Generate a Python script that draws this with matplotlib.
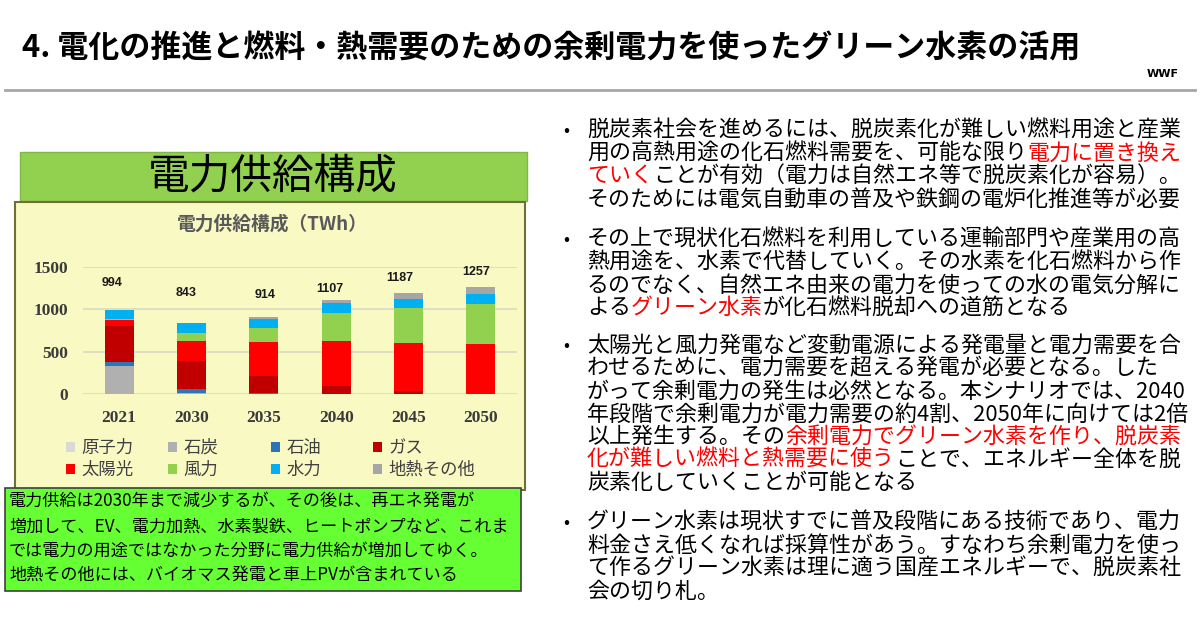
import numpy as np
import matplotlib
matplotlib.use("Agg")
import matplotlib.pyplot as plt
from matplotlib.patches import Rectangle, Patch
from matplotlib.lines import Line2D

plt.rcParams['font.family'] = ['Noto Sans CJK JP', 'DejaVu Sans']

# data (TWh)
years = ['2021', '2030', '2035', '2040', '2045', '2050']
totals = [994, 843, 914, 1107, 1187, 1257]
nuclear = [0, 0, 0, 0, 0, 0]
coal = [331, 12, 0, 0, 0, 0]
oil = [51, 45, 12, 0, 0, 0]
gas = [417, 338, 202, 101, 39, 0]
solar = [79, 226, 400, 520, 563, 591]
wind = [12, 103, 166, 335, 413, 475]
hydro = [102, 115, 110, 113, 110, 118]
geo = [2, 4, 24, 38, 62, 73]

names = ['原子力', '石炭', '石油', 'ガス', '太陽光', '風力', '水力', '地熱その他']
series = [nuclear, coal, oil, gas, solar, wind, hydro, geo]
colors = ['#d9d9d9', '#b0b0b0', '#2e75b6', '#c00000', '#ff0000', '#92d050', '#00b0f0', '#a6a6a6']

# where the total labels sit (they are loose text boxes in the original)
label_y = [1305, 1187, 1167, 1237, 1370, 1437]
label_dx = [-0.1, -0.07, 0.02, -0.09, -0.12, -0.06]

W, H = 1200, 622
fig = plt.figure(figsize=(12, 6.22), dpi=100)
fig.patch.set_facecolor('white')


def fx(x):
    return x / W


def fy(y):
    return 1 - y / H


def box(x0, y0, x1, y1, fc, ec, lw=1.0):
    fig.patches.append(Rectangle((fx(x0), fy(y1)), fx(x1) - fx(x0), fy(y0) - fy(y1),
                                 transform=fig.transFigure, facecolor=fc, edgecolor=ec,
                                 linewidth=lw, zorder=-1))


# header
fig.text(fx(22), fy(48), '4. 電化の推進と燃料・熱需要のための余剰電力を使ったグリーン水素の活用',
         fontsize=22.3, fontweight='bold', va='center', ha='left', color='black')
fig.text(fx(1163), fy(74), 'WWF', fontsize=8, fontweight='bold', family='DejaVu Sans',
         ha='center', va='center')
fig.lines.append(Line2D([fx(5), fx(1195)], [fy(90), fy(90)], transform=fig.transFigure,
                        color='#a6a6a6', lw=2))

# left panel boxes
box(20, 152, 527, 201, '#92d050', '#7fb848', 1)
fig.text(fx(273), fy(177), '電力供給構成', fontsize=30, ha='center', va='center', color='black')
box(15, 202, 525, 490, '#f9f9c4', '#6f6f3a', 1.5)
fig.text(fx(272), fy(224), '電力供給構成（TWh）', fontsize=13.5, fontweight='bold',
         ha='center', va='center', color='#595959')

# chart
ax = fig.add_axes([fx(83), fy(394.3), fx(517) - fx(83), fy(266.7) - fy(394.3)])
ax.set_zorder(2)
ax.set_facecolor('none')
x = np.arange(len(years))
bottom = np.zeros(len(years))
handles = []
for name, vals, c in zip(names, series, colors):
    vals = np.array(vals, dtype=float)
    ax.bar(x, vals, 0.4, bottom=bottom, color=c, zorder=3)
    bottom += vals
    handles.append(Patch(facecolor=c, edgecolor='none'))

for i in range(len(years)):
    ax.text(x[i] + label_dx[i], label_y[i], str(totals[i]), ha='center', va='center',
            fontsize=9, fontweight='bold', family='Liberation Sans', color='#1a1a1a')

ax.set_xlim(-0.5, 5.5)
ax.set_ylim(0, 1500)
ax.set_yticks([0, 500, 1000, 1500])
ax.set_xticks(x)
ax.set_xticklabels(years)
for lab in ax.get_xticklabels() + ax.get_yticklabels():
    lab.set_family('Liberation Serif')
    lab.set_fontweight('bold')
    lab.set_fontsize(12.5)
    lab.set_color('#3a3a3a')
ax.tick_params(length=0, pad=11)
ax.grid(axis='y', color='#d9d9c0', lw=1.2, zorder=0)
for s in ax.spines.values():
    s.set_visible(False)

# legend, one two-row column per group so the columns sit at even spacing
leg_x = [66, 168, 271, 373]
for j in range(4):
    leg = ax.legend([handles[j], handles[j + 4]], [names[j], names[j + 4]],
                    loc='upper left', bbox_to_anchor=(fx(leg_x[j]), fy(439)),
                    bbox_transform=fig.transFigure, frameon=False, fontsize=12.5,
                    handlelength=0.5, handleheight=0.5, handletextpad=0.4,
                    labelspacing=0.22, borderpad=0, borderaxespad=0)
    for t in leg.get_texts():
        t.set_color('#404040')
    if j < 3:
        ax.add_artist(leg)

# bottom note box
box(5, 488, 521, 591, '#66ff33', '#404040', 1.2)
note = ['電力供給は2030年まで減少するが、その後は、再エネ発電が',
        '増加して、EV、電力加熱、水素製鉄、ヒートポンプなど、これま',
        'では電力の用途ではなかった分野に電力供給が増加してゆく。',
        '地熱その他には、バイオマス発電と車上PVが含まれている']
for k, line in enumerate(note):
    fig.text(fx(9), fy(502 + 24.3 * k), line, fontsize=12.3, ha='left', va='center', color='black')

# right column text
R = '#ff0000'
K = 'black'
bullets = [
    (131, [[('脱炭素社会を進めるには、脱炭素化が難しい燃料用途と産業', K)],
           [('用の高熱用途の化石燃料需要を、可能な限り', K), ('電力に置き換え', R)],
           [('ていく', R), ('ことが有効（電力は自然エネ等で脱炭素化が容易）。', K)],
           [('そのためには電気自動車の普及や鉄鋼の電炉化推進等が必要', K)]]),
    (240, [[('その上で現状化石燃料を利用している運輸部門や産業用の高', K)],
           [('熱用途を、水素で代替していく。その水素を化石燃料から作', K)],
           [('るのでなく、自然エネ由来の電力を使っての水の電気分解に', K)],
           [('よる', K), ('グリーン水素', R), ('が化石燃料脱却への道筋となる', K)]]),
    (346, [[('太陽光と風力発電など変動電源による発電量と電力需要を合', K)],
           [('わせるために、電力需要を超える発電が必要となる。した', K)],
           [('がって余剰電力の発生は必然となる。本シナリオでは、2040', K)],
           [('年段階で余剰電力が電力需要の約4割、2050年に向けては2倍', K)],
           [('以上発生する。その', K), ('余剰電力でグリーン水素を作り、脱炭素', R)],
           [('化が難しい燃料と熱需要に使う', R), ('ことで、エネルギー全体を脱', K)],
           [('炭素化していくことが可能となる', K)]]),
    (523, [[('グリーン水素は現状すでに普及段階にある技術であり、電力', K)],
           [('料金さえ低くなれば採算性があう。すなわち余剰電力を使っ', K)],
           [('て作るグリーン水素は理に適う国産エネルギーで、脱炭素社', K)],
           [('会の切り札。', K)]]),
]

renderer = fig.canvas.get_renderer()
for y0, lines in bullets:
    fig.text(fx(563), fy(y0), '•', fontsize=13, ha='left', va='center', color='black')
    for k, segs in enumerate(lines):
        xx = 587
        for s, c in segs:
            t = fig.text(fx(xx), fy(y0 + 22.8 * k), s, fontsize=15.8, ha='left', va='center', color=c)
            xx += t.get_window_extent(renderer).width

fig.savefig('out.png', dpi=100, facecolor='white')
